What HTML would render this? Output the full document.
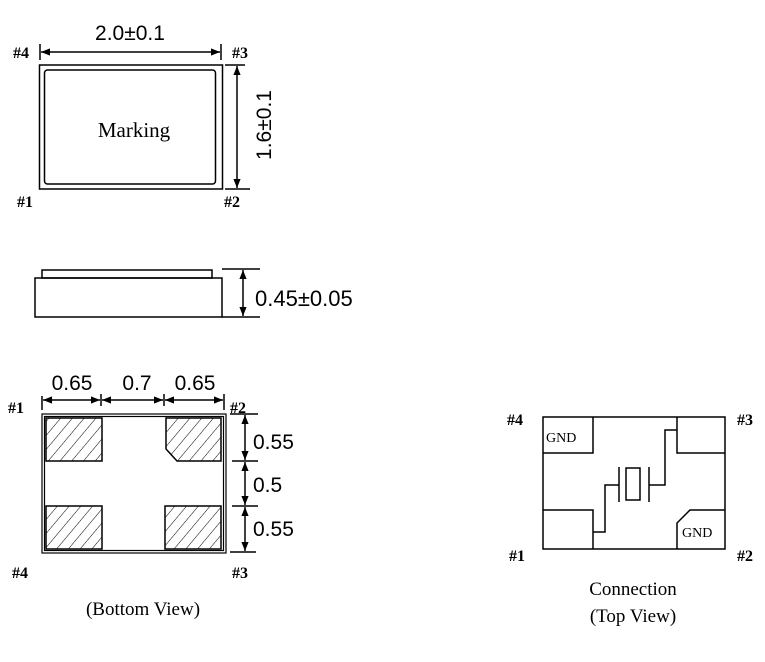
<!DOCTYPE html>
<html><head><meta charset="utf-8"><style>
html,body{margin:0;padding:0;background:#fff;}
svg{display:block;}
text{font-family:"Liberation Serif",serif;fill:#000;}
.s{font-family:"Liberation Sans",sans-serif;font-weight:300;}
</style></head><body>
<svg width="765" height="662" viewBox="0 0 765 662" xmlns="http://www.w3.org/2000/svg">
<defs>
<marker id="a" viewBox="0 0 10 10" refX="10" refY="5" markerWidth="6" markerHeight="6" orient="auto-start-reverse"><path d="M0,1 L10,5 L0,9 z" fill="#000"/></marker>
<pattern id="h" width="9" height="9" patternUnits="userSpaceOnUse" patternTransform="rotate(40)"><line x1="0" y1="0" x2="0" y2="9" stroke="#000" stroke-width="1"/></pattern>
</defs>
<g stroke="#000" stroke-width="1.5" fill="none">
<rect x="39.5" y="65" width="183" height="124"/>
<rect x="44.5" y="70" width="171" height="114" rx="3"/>
<line x1="40" y1="44" x2="40" y2="60"/><line x1="221" y1="44" x2="221" y2="60"/>
<line x1="41" y1="52" x2="220" y2="52" marker-start="url(#a)" marker-end="url(#a)"/>
<line x1="225" y1="65" x2="245" y2="65"/><line x1="225" y1="189" x2="250" y2="189"/>
<line x1="237" y1="66" x2="237" y2="188" marker-start="url(#a)" marker-end="url(#a)"/>
<rect x="42" y="270" width="170" height="8"/>
<rect x="35" y="278" width="187" height="39"/>
<line x1="222" y1="269" x2="260" y2="269"/><line x1="222" y1="317" x2="260" y2="317"/>
<line x1="243" y1="270" x2="243" y2="316" marker-start="url(#a)" marker-end="url(#a)"/>
<rect x="42" y="414" width="184" height="139" stroke-width="1.2"/>
<rect x="44.5" y="416.5" width="179" height="134" stroke-width="1.2"/>
<rect x="46" y="418" width="56" height="43" fill="url(#h)"/>
<path d="M166,418 H221 V461 H177 L166,449 Z" fill="url(#h)"/>
<rect x="46" y="506" width="56" height="43" fill="url(#h)"/>
<rect x="165" y="506" width="56" height="43" fill="url(#h)"/>
<line x1="42" y1="396" x2="42" y2="410"/><line x1="101" y1="394" x2="101" y2="406"/><line x1="164" y1="394" x2="164" y2="406"/><line x1="224" y1="394" x2="224" y2="410"/>
<line x1="43" y1="400" x2="100" y2="400" marker-start="url(#a)" marker-end="url(#a)"/>
<line x1="102" y1="400" x2="163" y2="400" marker-start="url(#a)" marker-end="url(#a)"/>
<line x1="165" y1="400" x2="223" y2="400" marker-start="url(#a)" marker-end="url(#a)"/>
<line x1="230" y1="414" x2="258" y2="414"/><line x1="232" y1="461" x2="258" y2="461"/><line x1="232" y1="506" x2="258" y2="506"/><line x1="230" y1="552" x2="256" y2="552"/>
<line x1="245" y1="415" x2="245" y2="460" marker-start="url(#a)" marker-end="url(#a)"/>
<line x1="245" y1="462" x2="245" y2="505" marker-start="url(#a)" marker-end="url(#a)"/>
<line x1="245" y1="507" x2="245" y2="551" marker-start="url(#a)" marker-end="url(#a)"/>
<rect x="543" y="417" width="182" height="132"/>
<path d="M543,453 H593 V417"/>
<path d="M677,417 V453 H725"/>
<path d="M543,510 H593 V549"/>
<path d="M725,510 H690 L677,523 V549"/>
<path d="M593,532 H605 V485 H619"/>
<line x1="619" y1="467" x2="619" y2="502"/>
<rect x="626" y="468" width="14" height="32"/>
<line x1="649" y1="467" x2="649" y2="502"/>
<path d="M649,485 H665 V430 H677"/>
</g>
<g font-size="21">
<text x="130" y="40" text-anchor="middle" class="s">2.0±0.1</text>
<text x="134" y="137" text-anchor="middle" font-size="21">Marking</text>
<text transform="translate(271,125) rotate(-90)" text-anchor="middle" class="s">1.6±0.1</text>
<text x="255" y="306" class="s" font-size="22">0.45±0.05</text>
<text x="72" y="390" text-anchor="middle" class="s">0.65</text>
<text x="137" y="390" text-anchor="middle" class="s">0.7</text>
<text x="195" y="390" text-anchor="middle" class="s">0.65</text>
<text x="253" y="449" class="s">0.55</text>
<text x="253" y="492" class="s">0.5</text>
<text x="253" y="536" class="s">0.55</text>
<text x="143" y="615" text-anchor="middle" font-size="19">(Bottom View)</text>
<text x="633" y="595" text-anchor="middle" font-size="19">Connection</text>
<text x="633" y="622" text-anchor="middle" font-size="19">(Top View)</text>
</g>
<g font-size="16" font-weight="bold">
<text x="13" y="58">#4</text><text x="232" y="58">#3</text>
<text x="17" y="207">#1</text><text x="224" y="207">#2</text>
<text x="8" y="413">#1</text><text x="230" y="413">#2</text>
<text x="12" y="578">#4</text><text x="232" y="578">#3</text>
<text x="507" y="425">#4</text><text x="737" y="425">#3</text>
<text x="509" y="561">#1</text><text x="737" y="561">#2</text>
</g>
<g font-size="14">
<text x="546" y="442">GND</text>
<text x="682" y="537">GND</text>
</g>
</svg>
</body></html>
